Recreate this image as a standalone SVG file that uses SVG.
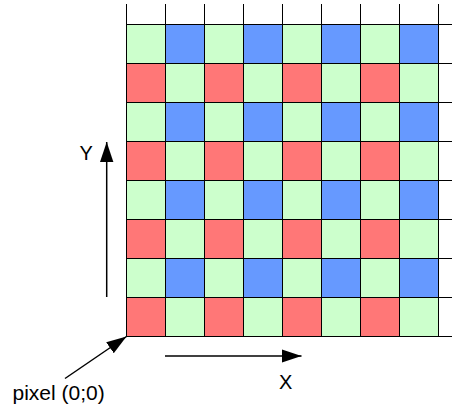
<svg xmlns="http://www.w3.org/2000/svg" width="452" height="408" viewBox="0 0 452 408">
<style>
.g{fill:#ccffcc}.b{fill:#6699ff}.r{fill:#ff7777}
.grid rect{stroke:#000;stroke-width:1}
.ln{stroke:#000;stroke-width:1;fill:none}
.ar{stroke:#000;stroke-width:1.5;fill:none;marker-end:url(#ah)}
text{font-family:"Liberation Sans",Arial,sans-serif;font-size:20px;fill:#000}
</style>
<defs>
<marker id="ah" markerUnits="userSpaceOnUse" markerWidth="21" markerHeight="14" refX="20" refY="6.7" orient="auto">
<path d="M0,0 L20,6.7 L0,13.4 z" fill="#000"/>
</marker>
</defs>
<rect width="452" height="408" fill="#fff"/>
<g id="grid" class="grid">
<g id="row0">
<rect class="g" x="126.5" y="24.5" width="39" height="39"/><rect class="b" x="165.5" y="24.5" width="39" height="39"/><rect class="g" x="204.5" y="24.5" width="39" height="39"/><rect class="b" x="243.5" y="24.5" width="39" height="39"/><rect class="g" x="282.5" y="24.5" width="39" height="39"/><rect class="b" x="321.5" y="24.5" width="39" height="39"/><rect class="g" x="360.5" y="24.5" width="39" height="39"/><rect class="b" x="399.5" y="24.5" width="39" height="39"/>
</g>
<g id="row1">
<rect class="r" x="126.5" y="63.5" width="39" height="39"/><rect class="g" x="165.5" y="63.5" width="39" height="39"/><rect class="r" x="204.5" y="63.5" width="39" height="39"/><rect class="g" x="243.5" y="63.5" width="39" height="39"/><rect class="r" x="282.5" y="63.5" width="39" height="39"/><rect class="g" x="321.5" y="63.5" width="39" height="39"/><rect class="r" x="360.5" y="63.5" width="39" height="39"/><rect class="g" x="399.5" y="63.5" width="39" height="39"/>
</g>
<g id="row2">
<rect class="g" x="126.5" y="102.5" width="39" height="39"/><rect class="b" x="165.5" y="102.5" width="39" height="39"/><rect class="g" x="204.5" y="102.5" width="39" height="39"/><rect class="b" x="243.5" y="102.5" width="39" height="39"/><rect class="g" x="282.5" y="102.5" width="39" height="39"/><rect class="b" x="321.5" y="102.5" width="39" height="39"/><rect class="g" x="360.5" y="102.5" width="39" height="39"/><rect class="b" x="399.5" y="102.5" width="39" height="39"/>
</g>
<g id="row3">
<rect class="r" x="126.5" y="141.5" width="39" height="39"/><rect class="g" x="165.5" y="141.5" width="39" height="39"/><rect class="r" x="204.5" y="141.5" width="39" height="39"/><rect class="g" x="243.5" y="141.5" width="39" height="39"/><rect class="r" x="282.5" y="141.5" width="39" height="39"/><rect class="g" x="321.5" y="141.5" width="39" height="39"/><rect class="r" x="360.5" y="141.5" width="39" height="39"/><rect class="g" x="399.5" y="141.5" width="39" height="39"/>
</g>
<g id="row4">
<rect class="g" x="126.5" y="180.5" width="39" height="39"/><rect class="b" x="165.5" y="180.5" width="39" height="39"/><rect class="g" x="204.5" y="180.5" width="39" height="39"/><rect class="b" x="243.5" y="180.5" width="39" height="39"/><rect class="g" x="282.5" y="180.5" width="39" height="39"/><rect class="b" x="321.5" y="180.5" width="39" height="39"/><rect class="g" x="360.5" y="180.5" width="39" height="39"/><rect class="b" x="399.5" y="180.5" width="39" height="39"/>
</g>
<g id="row5">
<rect class="r" x="126.5" y="219.5" width="39" height="39"/><rect class="g" x="165.5" y="219.5" width="39" height="39"/><rect class="r" x="204.5" y="219.5" width="39" height="39"/><rect class="g" x="243.5" y="219.5" width="39" height="39"/><rect class="r" x="282.5" y="219.5" width="39" height="39"/><rect class="g" x="321.5" y="219.5" width="39" height="39"/><rect class="r" x="360.5" y="219.5" width="39" height="39"/><rect class="g" x="399.5" y="219.5" width="39" height="39"/>
</g>
<g id="row6">
<rect class="g" x="126.5" y="258.5" width="39" height="39"/><rect class="b" x="165.5" y="258.5" width="39" height="39"/><rect class="g" x="204.5" y="258.5" width="39" height="39"/><rect class="b" x="243.5" y="258.5" width="39" height="39"/><rect class="g" x="282.5" y="258.5" width="39" height="39"/><rect class="b" x="321.5" y="258.5" width="39" height="39"/><rect class="g" x="360.5" y="258.5" width="39" height="39"/><rect class="b" x="399.5" y="258.5" width="39" height="39"/>
</g>
<g id="row7">
<rect class="r" x="126.5" y="297.5" width="39" height="39"/><rect class="g" x="165.5" y="297.5" width="39" height="39"/><rect class="r" x="204.5" y="297.5" width="39" height="39"/><rect class="g" x="243.5" y="297.5" width="39" height="39"/><rect class="r" x="282.5" y="297.5" width="39" height="39"/><rect class="g" x="321.5" y="297.5" width="39" height="39"/><rect class="r" x="360.5" y="297.5" width="39" height="39"/><rect class="g" x="399.5" y="297.5" width="39" height="39"/>
</g>
<path class="ln" d="M126.5,4V24.5M165.5,4V24.5M204.5,4V24.5M243.5,4V24.5M282.5,4V24.5M321.5,4V24.5M360.5,4V24.5M399.5,4V24.5M438.5,4V24.5"/>
<path class="ln" d="M438.5,24.5H452M438.5,63.5H452M438.5,102.5H452M438.5,141.5H452M438.5,180.5H452M438.5,219.5H452M438.5,258.5H452M438.5,297.5H452M438.5,336.5H452"/>
</g>
<g id="connectors">
<line class="ar" x1="106.7" y1="297" x2="106.7" y2="142"/>
<line class="ar" x1="165" y1="356" x2="301.5" y2="356"/>
<line class="ar" x1="65" y1="378.5" x2="126.5" y2="336.5"/>
</g>
<g id="label-y"><text x="79.5" y="160">Y</text></g>
<g id="label-x"><text x="279" y="388.5">X</text></g>
<g id="label-pixel"><text x="12.5" y="399.5" style="font-size:21px">pixel (0;0)</text></g>
</svg>
